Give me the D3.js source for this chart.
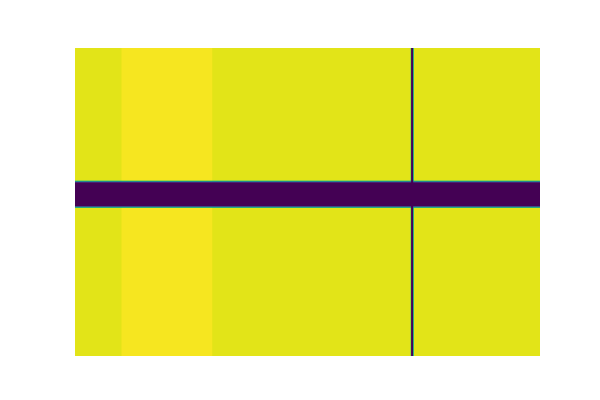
<!DOCTYPE html>
<html>
<head>
<meta charset="utf-8">
<script src="https://cdn.jsdelivr.net/npm/d3@7"></script>
<style>
  html, body { margin: 0; padding: 0; background: #ffffff; }
  svg { display: block; }
</style>
</head>
<body>
<div id="chart"></div>
<script>
// ---- Data (image grid of 400 columns x 120 rows, values 0..1) ----
const nCols = 400;
const nRows = 120;
// column boundaries of regions (in cell units)
const colEdges = [0, 40, 118, 289, 291, 400];
// row boundaries of regions (in cell units)
const rowEdges = [0, 52, 62, 120];
// value per region: rows of regions x columns of regions
const bandValues = [
  [0.955, 0.985, 0.955, 0.0, 0.955],
  [0.0,   0.0,   0.0,   0.0, 0.0  ],
  [0.955, 0.985, 0.955, 0.0, 0.955]
];
const colorDomain = [0, 1];

// ---- Layout ----
const W = 600, H = 400;
const margin = { left: 75, right: 60, top: 48, bottom: 44 };

const x = d3.scaleLinear().domain([0, nCols]).range([margin.left, W - margin.right]);
const y = d3.scaleLinear().domain([0, nRows]).range([margin.top, H - margin.bottom]);
const color = d3.scaleSequential(d3.interpolateViridis).domain(colorDomain);

// build the cell matrix from the region table
const grid = [];
for (let r = 0; r < nRows; r++) {
  const ri = d3.bisectRight(rowEdges, r) - 1;
  const row = [];
  for (let c = 0; c < nCols; c++) {
    const ci = d3.bisectRight(colEdges, c) - 1;
    row.push(bandValues[ri][ci]);
  }
  grid.push(row);
}

function cell(r, c) {
  r = Math.max(0, Math.min(nRows - 1, r));
  c = Math.max(0, Math.min(nCols - 1, c));
  return grid[r][c];
}

const x0 = Math.round(x(0)), x1 = Math.round(x(nCols));
const y0 = Math.round(y(0)), y1 = Math.round(y(nRows));
const pw = x1 - x0, ph = y1 - y0;

const canvas = document.createElement("canvas");
canvas.width = pw; canvas.height = ph;
const ctx = canvas.getContext("2d");
const img = ctx.createImageData(pw, ph);
for (let py = 0; py < ph; py++) {
  const v = y.invert(y0 + py + 0.5) - 0.5;
  const r0 = Math.floor(v), fr = v - r0;
  for (let px = 0; px < pw; px++) {
    const u = x.invert(x0 + px + 0.5) - 0.5;
    const c0 = Math.floor(u), fc = u - c0;
    const val = (1 - fr) * ((1 - fc) * cell(r0, c0) + fc * cell(r0, c0 + 1)) +
                fr * ((1 - fc) * cell(r0 + 1, c0) + fc * cell(r0 + 1, c0 + 1));
    const col = d3.rgb(color(val));
    const k = (py * pw + px) * 4;
    img.data[k] = col.r; img.data[k + 1] = col.g; img.data[k + 2] = col.b; img.data[k + 3] = 255;
  }
}
ctx.putImageData(img, 0, 0);

const svg = d3.select("#chart").append("svg").attr("width", W).attr("height", H);
svg.append("rect").attr("width", W).attr("height", H).attr("fill", "#ffffff");
svg.append("image")
  .attr("x", x0).attr("y", y0)
  .attr("width", pw).attr("height", ph)
  .attr("preserveAspectRatio", "none")
  .attr("href", canvas.toDataURL());
</script>
</body>
</html>
